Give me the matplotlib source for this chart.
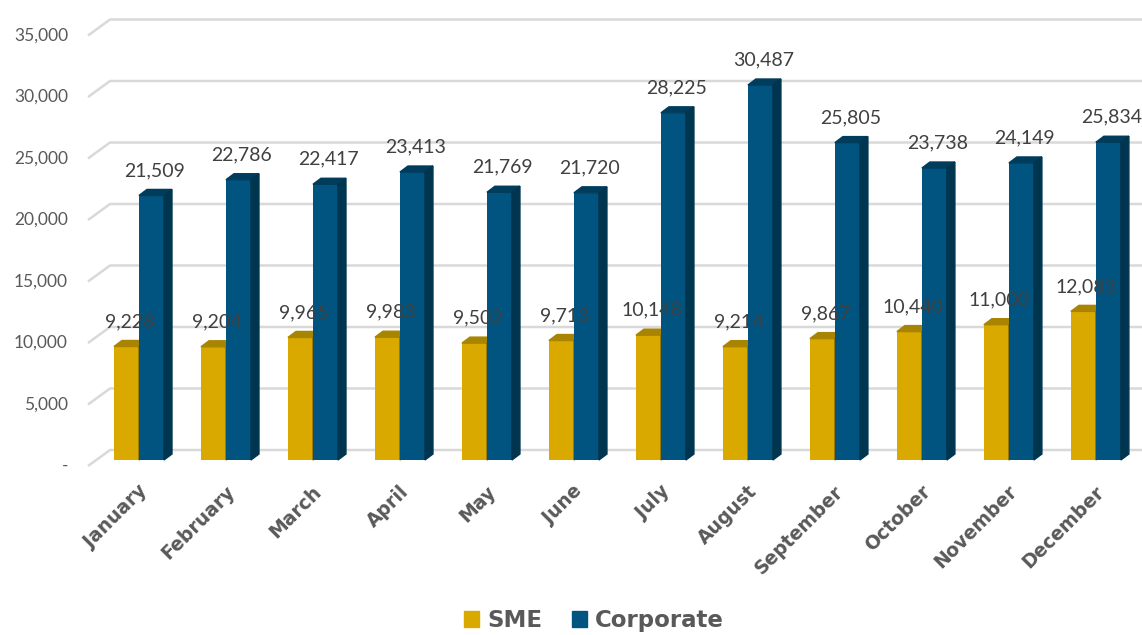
import matplotlib.pyplot as plt
from matplotlib.patches import Polygon, Patch

months = ['January', 'February', 'March', 'April', 'May', 'June', 'July',
          'August', 'September', 'October', 'November', 'December']
sme = [9228, 9204, 9965, 9983, 9502, 9713, 10148, 9214, 9867, 10440, 11000, 12083]
corporate = [21509, 22786, 22417, 23413, 21769, 21720, 28225, 30487, 25805,
             23738, 24149, 25834]
yticks = [0, 5000, 10000, 15000, 20000, 25000, 30000, 35000]

gold = '#DAA900'
gold_top = '#A88400'
gold_side = '#8A6C00'
blue = '#00547F'
blue_top = '#003C5C'
blue_side = '#00354F'
grid = '#D9D9D9'
text_gray = '#595959'

plt.rcParams['font.family'] = ['Lato', 'DejaVu Sans']

# one pixel expressed in data units (x: categories, y: values)
PX = 1 / 87.0
PY = 5000 / 61.5
width = 25 * PX
dx, dy = 8 * PX, 6 * PY          # bar depth
wall_dx, wall_dy = 22 * PX, 16 * PY  # floor depth from front edge to back wall
back_dy = 10 * PY                # back wall sits above the bar plane

fig = plt.figure(figsize=(11.42, 6.35), dpi=100)
ax = fig.add_axes([0, 0, 1, 1])
ax.set_xlim(-139 * PX, 11.53)
ax.set_ylim(-175 * PY, 460 * PY)
ax.axis('off')

# back wall gridlines with the receding edge on the left
x_back = -0.333
for v in yticks:
    yb = v + back_dy
    ax.plot([x_back - wall_dx, x_back, 12], [yb - wall_dy, yb, yb],
            color=grid, lw=1.8, zorder=1, solid_capstyle='butt')
    label = '-' if v == 0 else f'{v:,}'
    ax.text(-71 * PX, yb - wall_dy, label, ha='right', va='center',
            fontsize=12.5, color=text_gray, zorder=1)


def bar3d(x0, h, front, top, side):
    ax.bar(x0, h, width, align='edge', color=front, zorder=3)
    ax.add_patch(Polygon([(x0, h), (x0 + dx, h + dy), (x0 + width + dx, h + dy),
                          (x0 + width, h)], closed=True, color=top, zorder=3))
    ax.add_patch(Polygon([(x0 + width, 0), (x0 + width + dx, dy),
                          (x0 + width + dx, h + dy), (x0 + width, h)],
                         closed=True, color=side, zorder=3))


for i in range(len(months)):
    bar3d(i - width, sme[i], gold, gold_top, gold_side)
    bar3d(i, corporate[i], blue, blue_top, blue_side)

for i in range(len(months)):
    ax.text(i - width / 2 + 3 * PX, sme[i] + 25 * PY, f'{sme[i]:,}',
            ha='center', va='center', fontsize=14, color='#404040', zorder=5)
    ax.text(i + width / 2 + 3 * PX, corporate[i] + 25 * PY, f'{corporate[i]:,}',
            ha='center', va='center', fontsize=14, color='#404040', zorder=5)
    ax.text(i - 1 * PX, -22 * PY, months[i], rotation=45, ha='right', va='top',
            rotation_mode='anchor', fontsize=13.5, fontweight='bold',
            family='DejaVu Sans', color=text_gray)

handles = [Patch(color=gold, label='SME'), Patch(color=blue, label='Corporate')]
fig.legend(handles=handles, loc='lower center', ncol=2, frameon=False,
           bbox_to_anchor=(0.52, -0.028),
           prop={'size': 16.5, 'weight': 'bold', 'family': 'DejaVu Sans'},
           labelcolor=text_gray, handlelength=0.65, handleheight=0.65,
           handletextpad=0.35, columnspacing=1.3)

fig.savefig('out.png', dpi=100)
